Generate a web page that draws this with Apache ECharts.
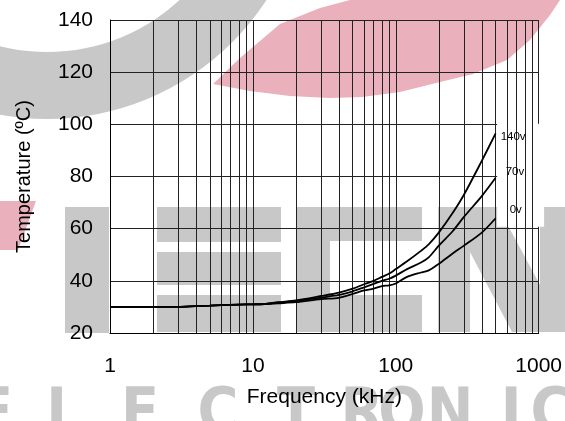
<!DOCTYPE html>
<html>
<head>
<meta charset="utf-8">
<script src="https://cdn.jsdelivr.net/npm/echarts@6/dist/echarts.min.js"></script>
<style>
html,body{margin:0;padding:0;background:#fff;}
#chart{width:565px;height:421px;}
</style>
</head>
<body>
<div id="chart"></div>
<script>
// ---- data ----
const freqs = [1, 2, 3, 4, 5, 6, 8, 10, 12, 15, 20, 30, 40, 50, 60, 70, 80, 90, 100, 120, 150, 170, 200, 250, 300, 400, 500];
const temp140v = [30, 30, 30, 30.3, 30.5, 30.7, 30.9, 31, 31.1, 31.8, 32.5, 34.2, 35.5, 37, 38.7, 40, 41.5, 42.8, 44.5, 47.5, 51.5, 54, 58.5, 66, 73, 86, 96.5];
const temp70v  = [30, 30, 30, 30.3, 30.5, 30.7, 30.9, 31, 31.1, 31.6, 32.2, 33.6, 34.6, 36, 37.5, 38.8, 40, 40.8, 42, 44.5, 47, 49, 53.5, 59, 64.5, 72.5, 79.5];
const temp0v   = [30, 30, 30, 30.3, 30.5, 30.7, 30.9, 31, 31.1, 31.4, 31.8, 33, 33.5, 35, 36.3, 37, 38, 38.3, 39, 41.5, 43.2, 44, 46.5, 50.5, 53.5, 58.5, 64];
const seriesNames = ['140v', '70v', '0v'];
const minorGrid = [2, 3, 4, 5, 6, 7, 8, 9, 20, 30, 40, 50, 60, 70, 80, 90, 200, 300, 400, 500, 600, 700, 800, 900];
const xTickLabels = [1, 10, 100, 1000];
const yTickLabels = [20, 40, 60, 80, 100, 120, 140];

const toPairs = (ys) => freqs.map((f, i) => [f, ys[i]]);

const gray = '#c8c8c8';
const pink = '#eab0bb';
const wm = [];
// watermark (decorative background)
wm.push({type: 'ring', z: -10, shape: {cx: 47, cy: -143, r: 262, r0: 195}, style: {fill: gray}});
wm.push({type: 'polygon', z: -10, shape: {points: [[213,84],[240,58],[280,24],[320,8],[350,0],[560,0],[550,15],[530,40],[507,60],[473,74],[440,82],[400,92],[362,97],[330,98],[290,96],[250,91]]}, style: {fill: pink}});
wm.push({type: 'polygon', z: -10, shape: {points: [[0,201],[36,201],[18,250],[0,250]]}, style: {fill: pink}});
const rects = [[65,207,44,126],[157,207,124,35],[157,252,124,33],[157,295,124,37],[297,207,33,125],[330,207,92,34],[330,295,92,37],[438,207,32,125],[540,207,25,125]];
rects.forEach(r => wm.push({type: 'rect', z: -10, shape: {x: r[0], y: r[1], width: r[2], height: r[3]}, style: {fill: gray}}));
wm.push({type: 'polygon', z: -10, shape: {points: [[470,207],[498,207],[540,285],[540,332],[512,332],[470,252]]}, style: {fill: gray}});
const letters = [['E', -6], ['L', 64], ['E', 140], ['C', 218], ['T', 296], ['R', 362], ['O', 402], ['N', 450], ['I', 511], ['C', 551]];
letters.forEach(l => wm.push({type: 'text', z: -10, x: l[1], y: 385, style: {text: l[0], fill: gray, font: 'bold 62px "Liberation Sans Narrow", "DejaVu Sans Condensed", sans-serif', textAlign: 'center', textVerticalAlign: 'top'}}));

const chart = echarts.init(document.getElementById('chart'), null, {renderer: 'canvas'});
const lineStyleBlack = {color: '#000', width: 1.8};
const labelOffsets = [[5, 3], [10, -6], [14, -8]];
const temps = [temp140v, temp70v, temp0v];

const option = {
  backgroundColor: '#ffffff',
  animation: false,
  grid: {left: 110, right: 26, top: 20, bottom: 88, containLabel: false},
  xAxis: {
    type: 'log', logBase: 10, min: 1, max: 1000,
    name: 'Frequency (kHz)', nameLocation: 'middle', nameGap: 54,
    nameTextStyle: {fontFamily: 'Liberation Sans', fontSize: 21, color: '#000'},
    axisLine: {show: true, lineStyle: {color: '#000', width: 1}},
    axisTick: {show: false},
    axisLabel: {fontFamily: 'Liberation Sans', fontSize: 21, color: '#000', margin: 23,
      formatter: (v) => xTickLabels.includes(Math.round(v)) ? String(Math.round(v)) : ''},
    splitLine: {show: true, lineStyle: {color: '#222', width: 1}}
  },
  yAxis: {
    type: 'value', min: 20, max: 140, interval: 20,
    name: 'Temperature (ºC)', nameLocation: 'middle', nameGap: 76,
    nameTextStyle: {fontFamily: 'Liberation Sans', fontSize: 20, color: '#000'},
    axisLine: {show: true, lineStyle: {color: '#000', width: 1}},
    axisTick: {show: false},
    axisLabel: {fontFamily: 'Liberation Sans', fontSize: 21, color: '#000', margin: 17,
      formatter: (v) => yTickLabels.includes(v) ? String(v) : ''},
    splitLine: {show: true, lineStyle: {color: '#222', width: 1}}
  },
  graphic: wm,
  series: [
    {
      type: 'line', z: 1, data: [], silent: true,
      markLine: {
        silent: true, symbol: ['none', 'none'], animation: false,
        label: {show: false},
        lineStyle: {type: 'solid', color: '#222', width: 1},
        data: minorGrid.map(v => ({xAxis: v}))
      }
    }
  ].concat(temps.map((t, i) => ({
    name: seriesNames[i], type: 'line', z: 5, data: toPairs(t),
    showSymbol: false, smooth: 0.3, lineStyle: lineStyleBlack,
    endLabel: {show: true, formatter: seriesNames[i], distance: 0, offset: labelOffsets[i],
      color: '#000', fontSize: 11.5, fontFamily: 'Liberation Sans Narrow, Liberation Sans'}
  })))
};
chart.setOption(option);

// white box behind the curve labels (covers grid lines there)
const p1 = chart.convertToPixel({gridIndex: 0}, [500, 100]);
const p2 = chart.convertToPixel({gridIndex: 0}, [1000, 60]);
chart.setOption({graphic: wm.concat([{type: 'rect', z: 3, shape: {x: p1[0] + 1.5, y: p1[1] - 0.5, width: p2[0] - p1[0] + 4, height: p2[1] - p1[1] - 1.5}, style: {fill: '#fff'}}])});
</script>
</body>
</html>
